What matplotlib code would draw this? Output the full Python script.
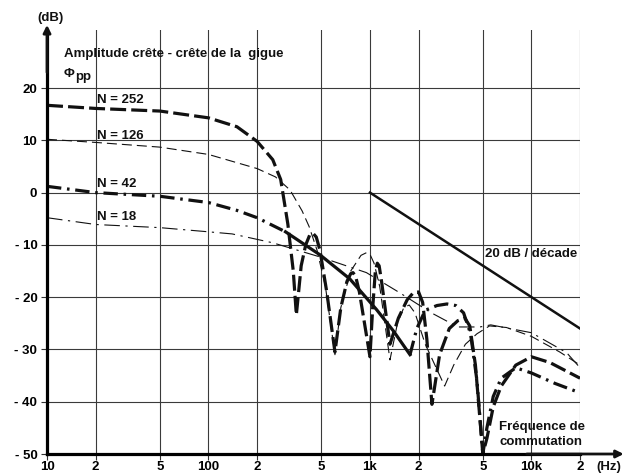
import matplotlib
matplotlib.use('Agg')
import matplotlib.pyplot as plt

plt.rcParams['font.family'] = ['Liberation Sans', 'DejaVu Sans']

# axis ticks / labels
x_ticks = [10, 20, 50, 100, 200, 500, 1000, 2000, 5000, 10000, 20000]
x_labels = ['10', '2', '5', '100', '2', '5', '1k', '2', '5', '10k', '2']
y_ticks = [-50, -40, -30, -20, -10, 0, 10, 20]
y_labels = ['- 50', '- 40', '- 30', '- 20', '- 10', '0', '10', '20']

# N = 252 (heavy long dashes)
f_252 = [10, 20, 50, 100, 150, 200, 250, 280, 310, 335, 350, 375, 400, 425, 444, 465, 490, 540,
         607, 660, 720, 760, 785, 815, 860, 1000, 1040, 1080, 1110, 1140, 1180, 1330, 1500, 1700,
         1850, 2000, 2120, 2250, 2420, 2700, 3100, 3500, 3870, 4150, 4500, 4850, 5000, 5300, 5800,
         6500, 8000, 10000, 13000, 20000]
db_252 = [16.7, 16.1, 15.6, 14.3, 12.6, 9.8, 6.3, 2.5, -6, -15, -23.4, -14, -10, -8, -7.8, -8.5, -11, -19,
          -30.5, -22, -17, -15.5, -15.3, -16, -19, -31.4, -22, -15, -13.5, -14, -17, -29, -24, -20.5,
          -19.2, -19, -21, -28, -40.5, -31, -26, -24.5, -24, -25.5, -33, -45, -50, -47, -41,
          -37, -33, -31.4, -32.5, -35.5]

# N = 126 (thin dashes)
f_126 = [10, 20, 50, 100, 200, 260, 320, 380, 420, 470, 530, 607, 660, 760, 880, 950, 1000, 1060,
         1150, 1330, 1480, 1620, 1750, 1900, 2200, 2900, 3300, 3900, 4600, 5500, 7000, 10000, 15000, 20000]
db_126 = [10.2, 9.6, 8.7, 7.3, 4.6, 3.0, 0.5, -3.5, -6.5, -11, -18, -31, -22, -15, -12, -11.5, -11.8, -13.5,
          -18, -32, -25, -22, -21.5, -23, -29, -37, -33, -29, -27, -25.5, -25.8, -27.5, -30.5, -33]

# N = 42 (heavy dash-dot, solid stretch between 300 Hz and 1.77 kHz)
f_42 = [10, 20, 50, 100, 150, 200, 300, 490, 750, 1100, 1400, 1770, 1950, 2200, 2600, 3000, 3400,
        3800, 4200, 4600, 5000, 5300, 5800, 6500, 8000, 10000, 14000, 20000]
db_42 = [1.2, 0.0, -0.7, -1.9, -3.4, -4.8, -7.5, -11.9, -16.5, -22.4, -26.5, -31, -26, -22.5, -21.6, -21.3, -21.6,
         -23, -27, -36, -50, -45, -39, -35.5, -33.5, -34.5, -36.5, -38.3]

# N = 18 (thin dash-dot)
f_18 = [10, 20, 50, 100, 140, 250, 490, 950, 1500, 2400, 3500, 4800, 5600, 10000, 16500, 20000]
db_18 = [-4.8, -6.1, -6.7, -7.5, -7.9, -9.6, -12.3, -15.3, -19, -23, -25.7, -25.7, -25.3, -26.8, -30.6, -33.5]

# 20 dB / decade reference line
slope_f = [1000, 20000]
slope_db = [0, -26]

fig = plt.figure(figsize=(6.27, 4.75), dpi=100)
ax = fig.add_axes([0.075, 0.0442, 0.8501, 0.8926])
ax.set_xscale('log')
ax.set_xlim(10, 20000)
ax.set_ylim(-50, 31.1)

ax.set_xticks(x_ticks)
ax.set_xticklabels(x_labels)
ax.minorticks_off()
ax.set_yticks(y_ticks)
ax.set_yticklabels(y_labels)
ax.tick_params(length=4, width=0.8, color='#333333', labelsize=9.5)
ax.tick_params(axis='x', pad=1)
ax.tick_params(axis='y', pad=3)
for lab in ax.get_xticklabels() + ax.get_yticklabels():
    lab.set_fontweight('bold')

ax.grid(True, color='#3a3a3a', lw=0.8)
for s in ['top', 'right']:
    ax.spines[s].set_visible(False)
for s in ['left', 'bottom']:
    ax.spines[s].set_linewidth(2.3)

k = '#111111'
ax.plot(f_252, db_252, color=k, lw=2.3, ls=(0, (5, 1.6)))
ax.plot(f_126, db_126, color=k, lw=0.8, ls=(0, (9, 4.5)))
ax.plot(f_42[:7], db_42[:7], color=k, lw=2.3, ls=(0, (4.5, 1.8, 0.8, 1.8)))
ax.plot(f_42[6:12], db_42[6:12], color=k, lw=2.3)
ax.plot(f_42[11:], db_42[11:], color=k, lw=2.3, ls=(0, (4.5, 1.8, 0.8, 1.8)))
ax.plot(f_18, db_18, color=k, lw=0.8, ls=(0, (14, 5, 2, 5)))
ax.plot(slope_f, slope_db, color=k, lw=1.8)

# axis arrows
ax.annotate('', xy=(0, 1.012), xytext=(0, 0.9), xycoords='axes fraction',
            arrowprops=dict(arrowstyle='-|>', lw=2.0, color=k, mutation_scale=11,
                            shrinkA=0, shrinkB=0))
ax.annotate('', xy=(1.082, 0), xytext=(0.9, 0), xycoords='axes fraction',
            arrowprops=dict(arrowstyle='-|>', lw=2.0, color=k, mutation_scale=11,
                            shrinkA=0, shrinkB=0))

tkw = dict(fontsize=9.5, fontweight='bold', color=k)
fig.text(50 / 627, 1 - 18 / 475, '(dB)', ha='center', va='center', **tkw)
fig.text(609 / 627, 1 - 467 / 475, '(Hz)', ha='center', va='center', **tkw)
ax.text(12.7, 26.5, 'Amplitude crête - crête de la  gigue', ha='left', va='center', **tkw)
ax.text(12.7, 22.6, 'Φ', ha='left', va='center', **tkw)
ax.text(14.9, 22.2, 'pp', ha='left', va='center', **tkw)
ax.text(20.5, 17.8, 'N = 252', ha='left', va='center', **tkw)
ax.text(20.5, 10.9, 'N = 126', ha='left', va='center', **tkw)
ax.text(20.5, 1.7, 'N = 42', ha='left', va='center', **tkw)
ax.text(20.5, -4.6, 'N = 18', ha='left', va='center', **tkw)
ax.text(5150, -11.8, '20 dB / décade', ha='left', va='center', **tkw)
ax.text(6300, -44.8, 'Fréquence de', ha='left', va='center', **tkw)
ax.text(6300, -47.7, 'commutation', ha='left', va='center', **tkw)

fig.savefig('out.png', dpi=100)
